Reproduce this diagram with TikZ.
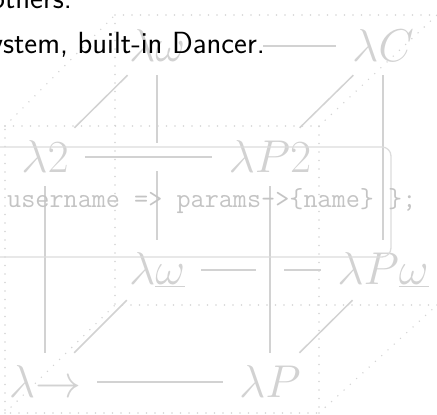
\RequirePackage{fix-cm}
\documentclass[tikz,border=0pt]{standalone}
\usepackage{fontspec}
\definecolor{cubegray}{HTML}{D2D2D2}
\definecolor{codegray}{HTML}{C4C4C4}
\definecolor{dotgray}{HTML}{D4D4D4}
\definecolor{boxgray}{HTML}{DCDCDC}
\tikzset{
  lam/.style={text=cubegray, inner xsep=16pt, inner ysep=13pt, font=\fontsize{46}{50}\selectfont},
  cubeedge/.style={draw=cubegray, line width=1.5pt},
  frontedge/.style={cubeedge, preaction={draw=white, line width=28pt}},
  dotline/.style={draw=dotgray, line width=1.6pt, dash pattern=on 0pt off 8.5pt, line cap=round},
  slidetext/.style={anchor=base east, inner sep=0pt, text=black, font=\sffamily\fontsize{30.6}{36}\selectfont},
  codetext/.style={anchor=base west, inner sep=0pt, text=codegray, font=\ttfamily\fontsize{27.4}{30}\selectfont}
}
\begin{document}
\begin{tikzpicture}[x=1pt,y=-1pt]
\useasboundingbox (0,0) rectangle (437,415);
% lambda cube nodes
\node[lam] (lw)   at (157,46)  {$\lambda\omega$};
\node[lam] (lC)   at (383,46)  {$\lambda C$};
\node[lam] (l2)   at (45,157)  {$\lambda 2$};
\node[lam] (lP2)  at (270,157) {$\lambda P2$};
\node[lam] (lwu)  at (157,270) {$\lambda\underline{\omega}$};
\node[lam] (lPwu) at (383,270) {$\lambda P\underline{\omega}$};
\node[lam] (lar)  at (45,382)  {$\lambda{\to}$};
\node[lam] (lP)   at (270,382) {$\lambda P$};
% back edges
\draw[cubeedge, shorten <=62pt] (lw) -- (lC);
\draw[cubeedge] (lw) -- (lwu);
\draw[cubeedge] (lC) -- (lPwu);
\draw[cubeedge] (lwu) -- (lPwu);
% diagonals
\draw[cubeedge] (l2) -- (lw);
\draw[cubeedge] (lP2) -- (lC);
\draw[cubeedge] (lar) -- (lwu);
\draw[cubeedge] (lP) -- (lPwu);
% front edges
\draw[frontedge] (l2) -- (lP2);
\draw[cubeedge] (l2) -- (lar);
\draw[frontedge] (lP2) -- (lP);
\draw[cubeedge] (lar) -- (lP);
% dotted box
\coordinate (fTL) at (5,126);
\coordinate (fTR) at (319,126);
\coordinate (fBL) at (5,413);
\coordinate (fBR) at (319,413);
\coordinate (bTL) at (115,15);
\coordinate (bTR) at (437,15);
\coordinate (bBL) at (115,305);
\coordinate (bBR) at (437,305);
\draw[dotline] (fTL) -- (fTR) -- (fBR) -- (fBL) -- cycle;
\draw[dotline] (bBR) -- (bBL) -- (bTL) -- (bTR);
\draw[dotline] (fTL) -- (bTL);
\draw[dotline] (fTR) -- (bTR);
\draw[dotline] (fBL) -- (bBL);
\draw[dotline] (fBR) -- (bBR);
% code box
\draw[boxgray, line width=1.3pt, rounded corners=9pt] (-20,147) rectangle (391,257);
\node[codetext] (code) at (7,207) {username => params->\{name\} \};};
% slide text
\node[slidetext] (t1) at (72,9) {others.};
\node[slidetext] (t2) at (265,53) {ystem, built-in Dancer.};
\end{tikzpicture}
\end{document}
